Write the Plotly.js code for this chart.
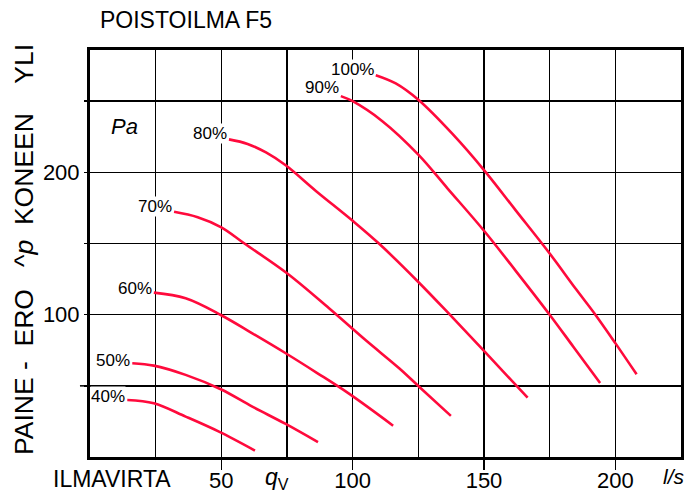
<!DOCTYPE html>
<html>
<head>
<meta charset="utf-8">
<script src="https://cdn.plot.ly/plotly-3.0.1.min.js"></script>
<style>html,body{margin:0;padding:0;background:#fff;}#chart{width:696px;height:493px;}</style>
</head>
<body>
<div id="chart"></div>
<script>
// Fan curve data: airflow q_V (l/s) vs pressure difference (Pa)
const seriesNames = ["40%", "50%", "60%", "70%", "80%", "90%", "100%"];

const flow40 = [14.2, 24.3, 36.4, 49.1, 62.8];
const dp40   = [40.1, 37.8, 28.4, 17.8, 4.5];

const flow50 = [16.1, 24.3, 36.4, 49.8, 61.8, 74.5, 86.8];
const dp50   = [65.9, 64.2, 57.7, 47.6, 35.4, 23.2, 10.4];

const flow60 = [24.3, 36.4, 49.8, 61.8, 74.5, 86.5, 98.6, 115.4];
const dp60   = [115.5, 111.5, 99.8, 86.9, 72.9, 59.0, 44.5, 22.0];

const flow70 = [32.0, 41.0, 50.0, 58.8, 75.0, 91.0, 105.0, 117.7, 125.3, 137.4];
const dp70   = [172.3, 168.5, 161.4, 150.0, 129.1, 104.5, 82.0, 62.4, 49.4, 28.9];

const flow80 = [52.9, 60.0, 67.0, 74.5, 86.0, 100.0, 110.0, 125.0, 137.0, 150.0, 166.6];
const dp80   = [223.2, 220.0, 214.0, 205.0, 187.0, 166.0, 150.0, 123.0, 100.0, 74.5, 41.7];

const flow90 = [95.5, 100.0, 111.3, 125.0, 136.0, 150.0, 162.0, 175.0, 184.0, 194.2];
const dp90   = [253.6, 250.0, 236.0, 212.5, 189.0, 159.0, 131.0, 100.0, 77.5, 52.0];

const flow100 = [108.8, 116.4, 125.0, 138.0, 150.0, 162.0, 175.0, 185.0, 192.6, 200.2, 208.1];
const dp100   = [268.3, 262.5, 251.0, 227.0, 201.6, 173.5, 143.0, 118.0, 99.5, 79.5, 58.1];

const xTickVals = [50, 100, 150, 200];
const xGridMinor = [25, 75, 125, 175];
const yTickVals = [100, 200];
const yGridMinor = [50, 150, 250];
const yLongTicks = [50];

const flows = [flow40, flow50, flow60, flow70, flow80, flow90, flow100];
const dps = [dp40, dp50, dp60, dp70, dp80, dp90, dp100];

const RED = '#ff0a3c';
const FONT = 'Liberation Sans, Arial, sans-serif';

const traces = flows.map((fx, i) => ({
  type: 'scatter', mode: 'lines', name: seriesNames[i],
  x: fx, y: dps[i],
  line: {color: RED, width: 2.6, shape: 'spline', smoothing: 1},
  hoverinfo: 'skip'
}));

const labelShift = [3, 3, 4, 5, 6, 9, 6];
const annotations = flows.map((fx, i) => ({
  x: fx[0], y: dps[i][0], xref: 'x', yref: 'y',
  text: seriesNames[i], showarrow: false,
  xanchor: 'right', yanchor: 'middle', xshift: -1, yshift: labelShift[i],
  bgcolor: '#ffffff', borderpad: 0,
  font: {family: FONT, size: 17, color: '#000'}
}));

const W = 591, L = 90, T = 50, H = 407;
function px(x) { return (x - L) / W; }
function py(y) { return 1 - (y - T) / H; }
const NB = '\u00A0';

annotations.push(
  {xref: 'paper', yref: 'paper', x: px(109), y: py(126), text: '<i>Pa</i>', showarrow: false,
   xanchor: 'left', yanchor: 'middle', font: {family: FONT, size: 22, color: '#000'}},
  {xref: 'paper', yref: 'paper', x: px(51), y: py(479), text: 'ILMAVIRTA', showarrow: false,
   xanchor: 'left', yanchor: 'middle', font: {family: FONT, size: 23, color: '#000'}},
  {xref: 'paper', yref: 'paper', x: px(263), y: py(478), text: '<i>q</i><sub>V</sub>', showarrow: false,
   xanchor: 'left', yanchor: 'middle', font: {family: FONT, size: 23, color: '#000'}},
  {xref: 'paper', yref: 'paper', x: px(661), y: py(476), text: '<i>l/s</i>', showarrow: false,
   xanchor: 'left', yanchor: 'middle', font: {family: FONT, size: 21, color: '#000'}},
  {xref: 'paper', yref: 'paper', x: px(24), y: py(250), textangle: -90,
   text: 'PAINE' + NB + '-' + NB + NB + 'ERO' + NB + NB + NB + '^<i>p</i>' + NB + NB + 'KONEEN' + NB + NB + NB + NB + 'YLI',
   showarrow: false, xanchor: 'center', yanchor: 'middle', font: {family: FONT, size: 26.5, color: '#000'}}
);

const shapes = yLongTicks.map(v => ({
  type: 'line', xref: 'paper', yref: 'y', x0: -0.017, x1: 0, y0: v, y1: v,
  line: {color: '#000', width: 1.5}
}));

const layout = {
  width: 696, height: 493,
  margin: {l: L, r: 696 - L - W, t: T, b: 493 - T - H},
  paper_bgcolor: '#fff', plot_bgcolor: '#fff',
  showlegend: false,
  title: {text: 'POISTOILMA F5', x: 100 / 696, xanchor: 'left', xref: 'container',
          y: 1 - 20 / 493, yanchor: 'middle', yref: 'container',
          font: {family: FONT, size: 23, color: '#000'}},
  xaxis: {
    range: [0, 225], tickmode: 'array', tickvals: xTickVals,
    ticks: 'outside', ticklen: 10, tickwidth: 1.5, tickcolor: '#000',
    ticklabelstandoff: -8,
    showgrid: true, gridcolor: '#000', gridwidth: 1.5,
    minor: {tickmode: 'array', tickvals: xGridMinor, showgrid: true, gridcolor: '#000', gridwidth: 1.5, ticks: ''},
    showline: true, mirror: true, linecolor: '#000', linewidth: 3,
    zeroline: false, fixedrange: true,
    tickfont: {family: FONT, size: 22, color: '#000'}
  },
  yaxis: {
    range: [0, 286], tickmode: 'array', tickvals: yTickVals,
    ticks: 'outside', ticklen: 3, tickwidth: 1.5, tickcolor: '#000',
    showgrid: true, gridcolor: '#000', gridwidth: 1.5,
    minor: {tickmode: 'array', tickvals: yGridMinor, showgrid: true, gridcolor: '#000', gridwidth: 1.5,
            ticks: 'outside', ticklen: 3, tickcolor: '#000', tickwidth: 1.5},
    showline: true, mirror: true, linecolor: '#000', linewidth: 3,
    zeroline: false, fixedrange: true,
    tickfont: {family: FONT, size: 22, color: '#000'}
  },
  annotations: annotations,
  shapes: shapes
};

Plotly.newPlot('chart', traces, layout, {displayModeBar: false, staticPlot: true});
</script>
</body>
</html>
